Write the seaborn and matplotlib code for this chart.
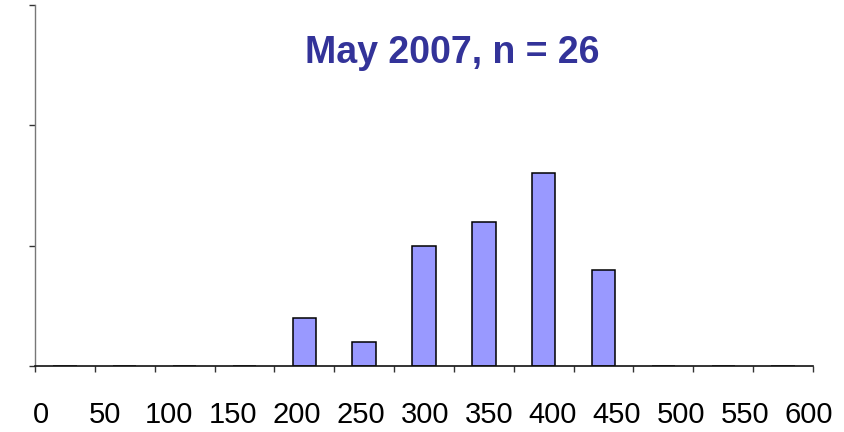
import numpy as np
import pandas as pd
import matplotlib
matplotlib.use("Agg")
import matplotlib.pyplot as plt
import seaborn as sns

# histogram bins (lower edge) and counts, May 2007
bins = [0, 50, 100, 150, 200, 250, 300, 350, 400, 450, 500, 550, 600]
counts = [0, 0, 0, 0, 2, 1, 5, 6, 8, 4, 0, 0, 0]
title = "May 2007, n = 26"
y_ticks = [0, 5, 10, 15]

sns.set_style("white")
plt.rcParams['font.family'] = ['Liberation Sans', 'DejaVu Sans']

df = pd.DataFrame({'bin': [str(b) for b in bins], 'count': counts})

fig = plt.figure(figsize=(8.44, 4.32), dpi=100)
ax = fig.add_axes([35 / 844, 1 - 366 / 432, 778 / 844, 361 / 432])

sns.barplot(data=df, x='bin', y='count', order=df['bin'], color='#9999ff',
            saturation=1, edgecolor='black', linewidth=1.1, width=0.39, ax=ax)

ax.set_xlim(-0.5, len(bins) - 0.5)
ax.set_ylim(0, 15)
ax.set_yticks(y_ticks)
ax.set_yticklabels([])
ax.set_xticks(np.arange(len(bins) + 1) - 0.5)
ax.set_xticklabels([])
ax.set_xlabel('')
ax.set_ylabel('')
ax.tick_params(axis='both', direction='out', length=4.5, width=1.0, color='#333333')
ax.tick_params(axis='x', bottom=True)
ax.tick_params(axis='y', left=True)
for s in ['top', 'right']:
    ax.spines[s].set_visible(False)
ax.spines['left'].set_color('#777777')
ax.spines['left'].set_linewidth(1.0)
ax.spines['bottom'].set_color('#111111')
ax.spines['bottom'].set_linewidth(1.2)

# value labels row under the axis
ax2 = ax.twiny()
ax2.set_xlim(-4.4, 603.3)
ax2.set_xticks(bins)
ax2.set_xticklabels([str(b) for b in bins], fontsize=21, color='black')
ax2.xaxis.set_ticks_position('bottom')
ax2.xaxis.set_label_position('bottom')
ax2.tick_params(axis='x', length=0, pad=25)
for s in ax2.spines.values():
    s.set_visible(False)

fig.text(452 / 844, 1 - 63 / 432, title, ha='center', va='baseline',
         fontsize=27, fontweight='bold', color='#333399')

fig.savefig('out.png', dpi=100)
